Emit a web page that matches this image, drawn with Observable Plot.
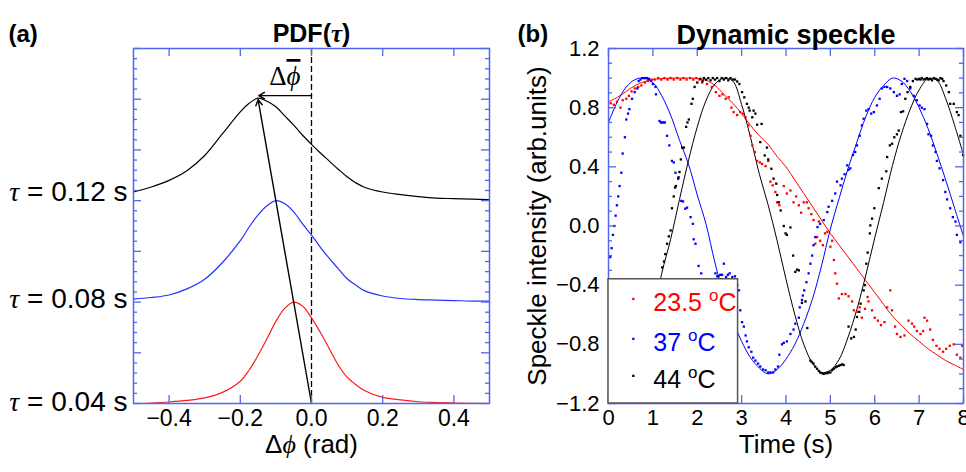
<!DOCTYPE html>
<html><head><meta charset="utf-8">
<script src="https://cdn.jsdelivr.net/npm/d3@7"></script>
<script src="https://cdn.jsdelivr.net/npm/@observablehq/plot@0.6"></script>
<style>
body{margin:0;background:#fff;}
#wrap{position:relative;width:966px;height:472px;display:flex;}
svg{display:block;}
</style></head><body><div id="wrap"></div>
<script>
// ---------- Panel (a): PDF(tau) ----------
const phiGrid = [-0.5,-0.45,-0.4,-0.35,-0.3,-0.25,-0.2,-0.175,-0.15,-0.125,-0.1,-0.075,-0.05,-0.025,0,0.025,0.05,0.075,0.1,0.125,0.15,0.2,0.25,0.3,0.35,0.4,0.45,0.5];
const pdfTau004 = [0.00,0.01,0.03,0.06,0.11,0.22,0.44,0.66,0.95,1.28,1.62,1.88,2.00,1.92,1.69,1.40,1.08,0.76,0.52,0.37,0.25,0.12,0.07,0.035,0.02,0.01,0.005,0.0];
const pdfTau008 = [2.06,2.09,2.14,2.26,2.45,2.78,3.21,3.48,3.72,3.90,4.00,3.94,3.78,3.54,3.32,3.08,2.86,2.66,2.46,2.33,2.22,2.12,2.07,2.05,2.04,2.03,2.02,2.02];
const pdfTau012 = [4.17,4.27,4.40,4.59,4.89,5.32,5.75,5.92,6.02,5.96,5.85,5.67,5.49,5.29,5.11,4.94,4.78,4.62,4.47,4.35,4.26,4.17,4.12,4.08,4.05,4.04,4.03,4.02];
const tauNames = ["τ = 0.04 s", "τ = 0.08 s", "τ = 0.12 s"];
const tauLabelY = [0.03, 2.06, 4.17];
const tauColors = ["#ff1a1a", "#2233ff", "#000000"];
const phiTicks = [-0.4, -0.2, 0, 0.2, 0.4];
const arrowX1 = [0.0, 0.0], arrowY1 = [0.0, 6.07], arrowX2 = [-0.150, -0.148], arrowY2 = [5.99, 6.07];
const meanShiftLabel = ["Δϕ"], meanShiftX = [-0.075], meanShiftY = [6.45];

// ---------- Panel (b): Dynamic speckle ----------
const seriesNames = ["23.5 °C", "37 °C", "44 °C"];
const seriesColors = ["#ff0000", "#0000ff", "#000000"];
const timeTicks = [0,1,2,3,4,5,6,7,8];
const intensityTicks = [-1.2,-0.8,-0.4,0,0.4,0.8,1.2];

const tRedDots = [0.05,0.12,0.19,0.27,0.32,0.40,0.46,0.52,0.59,0.67,0.74,0.82,0.89,0.97,1.04,1.12,1.19,1.26,1.33,1.40,1.47,1.55,1.62,1.69,1.76,1.84,1.91,1.98,2.05,2.11,2.22,2.33,2.42,2.50,2.57,2.64,2.71,2.77,2.82,2.90,2.97,3.03,3.09,3.15,3.20,3.24,3.30,3.35,3.41,3.46,3.54,3.60,3.65,3.70,3.76,3.80,3.85,3.95,4.02,4.10,4.17,4.23,4.29,4.34,4.40,4.47,4.51,4.57,4.62,4.66,4.70,4.74,4.77,4.83,4.88,4.93,5.00,5.04,5.08,5.11,5.15,5.19,5.26,5.34,5.41,5.49,5.53,5.60,5.66,5.71,5.78,5.84,5.86,5.94,6.00,6.07,6.14,6.22,6.28,6.35,6.39,6.46,6.50,6.58,6.67,6.76,6.84,6.89,6.95,7.03,7.09,7.12,7.18,7.25,7.31,7.39,7.46,7.54,7.61,7.69,7.78,7.85,7.93,7.97];
const vRedDots = [0.83,0.82,0.84,0.80,0.85,0.86,0.88,0.91,0.93,0.94,0.95,0.97,0.98,0.99,0.99,1.00,0.99,1.00,0.99,1.00,0.99,1.00,0.99,1.00,0.99,1.00,0.99,1.00,0.99,0.97,0.96,0.94,0.905,0.88,0.89,0.86,0.87,0.80,0.77,0.75,0.77,0.76,0.735,0.68,0.61,0.545,0.50,0.44,0.43,0.42,0.405,0.44,0.30,0.275,0.23,0.16,0.14,0.27,0.22,0.24,0.16,0.20,0.14,0.09,0.16,0.16,0.12,0.08,0.04,-0.12,-0.075,0.03,-0.10,-0.13,-0.05,-0.04,-0.14,-0.10,-0.23,-0.32,-0.39,-0.49,-0.46,-0.46,-0.475,-0.51,-0.57,-0.58,-0.55,-0.62,-0.56,-0.48,-0.51,-0.57,-0.62,-0.64,-0.67,-0.65,-0.55,-0.435,-0.57,-0.68,-0.73,-0.75,-0.74,-0.64,-0.66,-0.68,-0.71,-0.73,-0.71,-0.62,-0.64,-0.70,-0.77,-0.81,-0.83,-0.85,-0.83,-0.81,-0.80,-0.87,-0.89,-0.81];

const tBlueDots = [0.04,0.07,0.10,0.13,0.16,0.19,0.22,0.25,0.29,0.32,0.37,0.40,0.44,0.47,0.53,0.59,0.65,0.68,0.72,0.76,0.80,0.83,0.87,0.91,0.96,1.00,1.06,1.07,1.15,1.18,1.21,1.24,1.27,1.32,1.37,1.43,1.47,1.51,1.58,1.64,1.68,1.73,1.77,1.85,1.90,1.92,1.96,2.03,2.09,2.41,2.45,2.48,2.52,2.56,2.60,2.65,2.69,2.73,2.79,2.85,2.90,2.94,2.97,3.01,3.05,3.09,3.12,3.16,3.22,3.26,3.31,3.37,3.42,3.48,3.54,3.60,3.65,3.71,3.76,3.82,3.85,3.91,3.95,4.02,4.10,4.17,4.21,4.29,4.31,4.36,4.38,4.41,4.46,4.51,4.55,4.59,4.62,4.66,4.71,4.77,4.85,4.93,4.96,5.04,5.11,5.15,5.23,5.26,5.32,5.38,5.41,5.45,5.51,5.56,5.60,5.66,5.71,5.75,5.81,5.86,5.92,5.98,6.05,6.11,6.16,6.22,6.28,6.35,6.43,6.50,6.56,6.61,6.67,6.73,6.80,6.88,6.95,7.01,7.06,7.12,7.18,7.21,7.27,7.31,7.37,7.40,7.46,7.54,7.59,7.63,7.70,7.76,7.82,7.85,7.93];
const vBlueDots = [-0.21,-0.15,-0.06,0.00,0.07,0.14,0.20,0.27,0.36,0.49,0.60,0.72,0.76,0.79,0.86,0.905,0.93,0.98,0.99,1.00,1.00,1.00,1.00,0.995,0.98,0.96,0.94,0.89,0.71,0.70,0.70,0.70,0.70,0.61,0.545,0.44,0.43,0.36,0.33,0.17,0.166,0.117,0.124,0.06,0.015,-0.09,-0.12,-0.27,-0.32,-0.32,-0.34,-0.34,-0.33,-0.33,-0.255,-0.345,-0.33,-0.32,-0.345,-0.34,-0.40,-0.435,-0.57,-0.65,-0.68,-0.74,-0.78,-0.82,-0.85,-0.89,-0.91,-0.93,-0.95,-0.97,-0.975,-0.99,-0.99,-0.99,-0.97,-0.95,-0.87,-0.80,-0.79,-0.78,-0.73,-0.70,-0.66,-0.62,-0.55,-0.50,-0.47,-0.435,-0.38,-0.32,-0.255,-0.20,-0.13,-0.075,-0.007,0.015,0.04,0.094,0.13,0.17,0.22,0.30,0.275,0.32,0.35,0.41,0.38,0.39,0.48,0.50,0.545,0.61,0.68,0.725,0.78,0.79,0.76,0.77,0.815,0.86,0.93,0.94,0.94,0.93,0.905,0.88,0.89,0.96,0.995,0.98,0.93,0.88,0.85,0.815,0.80,0.79,0.69,0.62,0.61,0.545,0.50,0.44,0.39,0.31,0.23,0.18,0.12,0.06,0.03,-0.06,-0.11];

const tBlackDots = [1.21,1.25,1.28,1.32,1.36,1.40,1.43,1.47,1.50,1.52,1.57,1.60,1.63,1.66,1.70,1.75,1.78,1.81,1.87,1.90,1.94,2.00,2.07,2.12,2.15,2.20,2.25,2.30,2.35,2.40,2.45,2.50,2.55,2.60,2.65,2.70,2.75,2.80,2.85,2.90,2.95,3.01,3.06,3.12,3.16,3.18,3.24,3.27,3.31,3.35,3.42,3.45,3.52,3.57,3.60,3.67,3.72,3.78,3.80,3.84,3.88,3.95,3.99,4.02,4.10,4.16,4.21,4.25,4.29,4.36,4.44,4.48,4.55,4.58,4.62,4.66,4.70,4.74,4.77,4.81,4.85,4.89,4.93,4.96,5.00,5.04,5.08,5.12,5.15,5.19,5.23,5.27,5.30,5.41,5.47,5.53,5.57,5.60,5.65,5.68,5.75,5.78,5.81,5.84,5.89,5.90,5.94,5.99,6.09,6.16,6.26,6.28,6.34,6.39,6.44,6.50,6.54,6.59,6.64,6.69,6.74,6.80,6.86,6.92,6.96,7.00,7.03,7.06,7.10,7.14,7.18,7.21,7.25,7.29,7.33,7.37,7.41,7.44,7.48,7.52,7.55,7.61,7.67,7.70,7.78,7.85,7.89,7.93,7.99];
const vBlackDots = [-0.28,-0.24,-0.19,-0.12,-0.07,-0.03,0.12,0.20,0.26,0.27,0.32,0.365,0.45,0.53,0.53,0.67,0.70,0.72,0.826,0.86,0.94,0.97,0.995,0.98,1.0,0.99,1.0,0.985,1.0,0.99,1.0,0.98,1.0,0.99,1.0,0.985,1.0,0.99,0.99,0.977,0.96,0.905,0.87,0.826,0.80,0.78,0.735,0.78,0.76,0.685,0.567,0.69,0.477,0.53,0.45,0.387,0.32,0.286,0.21,0.16,0.105,0.00,-0.05,-0.06,-0.01,-0.20,-0.31,-0.295,-0.30,-0.52,-0.51,-0.69,-0.91,-0.92,-0.93,-0.95,-0.965,-0.98,-0.99,-0.995,-1.0,-0.995,-0.995,-0.99,-0.99,-0.975,-0.965,-0.955,-0.95,-0.945,-0.94,-0.935,-0.94,-0.68,-0.76,-0.75,-0.70,-0.615,-0.58,-0.525,-0.435,-0.40,-0.255,-0.18,-0.05,0.004,0.05,0.12,0.256,0.32,0.37,0.466,0.545,0.556,0.60,0.62,0.645,0.77,0.775,0.86,0.905,0.94,0.98,0.995,0.99,0.995,0.99,1.0,0.99,0.995,1.0,0.99,0.995,0.985,1.0,0.995,0.99,0.985,1.0,0.995,0.98,0.95,0.905,0.826,0.826,0.77,0.75,0.61,0.48];

const tFit = [0,0.2,0.4,0.6,0.8,1.0,1.2,1.4,1.6,1.8,2.0,2.2,2.4,2.6,2.8,3.0,3.2,3.4,3.6,3.8,4.0,4.2,4.4,4.6,4.8,5.0,5.2,5.4,5.6,5.8,6.0,6.2,6.4,6.6,6.8,7.0,7.2,7.4,7.6,7.8,8.0];
const vRedFit = [0.84,0.87,0.91,0.95,0.975,0.99,0.997,1.0,1.0,1.0,0.998,0.985,0.95,0.89,0.83,0.76,0.68,0.61,0.55,0.47,0.40,0.31,0.22,0.13,0.04,-0.05,-0.13,-0.21,-0.29,-0.37,-0.45,-0.53,-0.61,-0.67,-0.73,-0.78,-0.83,-0.87,-0.91,-0.94,-0.97];
const vBlueFit = [0.70,0.84,0.94,0.99,1.0,0.97,0.88,0.75,0.58,0.42,0.21,0.01,-0.25,-0.47,-0.64,-0.78,-0.89,-0.96,-1.0,-0.97,-0.90,-0.80,-0.66,-0.49,-0.27,-0.02,0.19,0.39,0.57,0.74,0.87,0.95,1.0,0.98,0.91,0.80,0.66,0.49,0.31,0.12,-0.07];
const vBlackFit = [null,null,null,null,null,-0.62,-0.32,-0.09,0.18,0.44,0.67,0.85,0.96,1.0,0.98,0.82,0.60,0.35,0.14,-0.10,-0.36,-0.60,-0.80,-0.93,-0.99,-0.975,-0.90,-0.75,-0.56,-0.33,-0.08,0.16,0.41,0.62,0.79,0.92,0.995,0.985,0.86,0.68,0.48];

// legend placement (data units of panel b)
const legendBox = [{t1: 0, t2: 2.92, v1: -1.2, v2: -0.36}];
const legendDotT = 0.56, legendTextT = 1.01;
const legendV = [-0.52, -0.79, -1.04];

// ---------- styles ----------
const AX = "#5366ee";
const SANS = "'Liberation Sans', Arial, sans-serif";
const SERIF = "'Liberation Serif', 'DejaVu Serif', serif";
const H = 472, MT = 48, MB = 69;
const plotH = H - MT - MB;

function frameTicks(plotW, yMinor, yMajorTest, xTicks) {
  const lenOf = d => yMajorTest(d) ? 8 : 4;
  return [
    ...yMinor.map(d => Plot.tickY([d], {y: x => x, stroke: AX, strokeWidth: 1.3, insetRight: plotW - lenOf(d)})),
    ...yMinor.map(d => Plot.tickY([d], {y: x => x, stroke: AX, strokeWidth: 1.3, insetLeft: plotW - lenOf(d)})),
    Plot.tickX(xTicks, {x: d => d, stroke: AX, strokeWidth: 1.3, insetTop: plotH - 8}),
    Plot.tickX(xTicks, {x: d => d, stroke: AX, strokeWidth: 1.3, insetBottom: plotH - 8})
  ];
}

function styleText(svg, overbarTexts) {
  d3.select(svg).selectAll("text").each(function () {
    const el = this;
    if (el.querySelector("tspan")) return;
    const s = el.textContent;
    const sel = d3.select(el);
    const bar = overbarTexts.includes(s);
    if (s.endsWith("°C")) {
      const num = s.slice(0, -2);
      el.textContent = "";
      sel.append("tspan").text(num);
      sel.append("tspan").attr("dy", -10).attr("font-size", "17px").text("o");
      sel.append("tspan").attr("dy", 10).text("C");
    } else if (/[τϕ]/.test(s)) {
      el.textContent = "";
      for (const part of s.split(/([τϕ])/)) {
        if (!part) continue;
        const t = sel.append("tspan").text(part);
        if (/[τϕ]/.test(part)) {
          t.attr("font-family", SERIF).attr("font-style", "italic");
          if (bar) t.attr("text-decoration", "overline");
        }
      }
    }
  });
}

// ---------- build panel (a) ----------
const WA = 500, MLA = 133, MRA = 11, plotWA = WA - MLA - MRA;
const pdfRows = [];
[pdfTau004, pdfTau008, pdfTau012].forEach((arr, k) => arr.forEach((v, i) => pdfRows.push({phi: phiGrid[i], pdf: v, tau: tauNames[k]})));
const arrows = arrowX1.map((d, i) => ({x1: arrowX1[i], y1: arrowY1[i], x2: arrowX2[i], y2: arrowY2[i]}));
const yMinorA = d3.range(0, 36).map(i => i * 0.2);

const plotA = Plot.plot({
  width: WA, height: H, marginLeft: MLA, marginRight: MRA, marginTop: MT, marginBottom: MB,
  style: {fontFamily: SANS, fontSize: "22px", background: "transparent", overflow: "visible", color: "#000"},
  x: {domain: [-0.5, 0.5], axis: null},
  y: {domain: [0, 7], axis: null},
  color: {domain: tauNames, range: tauColors},
  marks: [
    Plot.ruleX([0], {stroke: "#000", strokeWidth: 1.3, strokeDasharray: "6,3"}),
    Plot.line(pdfRows, {x: "phi", y: "pdf", z: "tau", stroke: "tau", strokeWidth: 1.2, curve: "catmull-rom"}),
    Plot.arrow(arrows, {x1: "x1", y1: "y1", x2: "x2", y2: "y2", stroke: "#000", strokeWidth: 1.4, headLength: 7}),
    Plot.text(meanShiftLabel, {x: meanShiftX, y: meanShiftY, text: d => d, fontFamily: SERIF, fontSize: 27}),
    Plot.frame({stroke: AX, strokeWidth: 1.5}),
    ...frameTicks(plotWA, yMinorA, d => Math.abs(d - Math.round(d)) < 1e-6, phiTicks),
    Plot.axisX({ticks: phiTicks, tickSize: 0, tickPadding: 6, tickFormat: d3.format(".1f"), fontSize: 23, label: null}),
    Plot.text(tauNames, {x: -0.5, y: tauLabelY, text: d => d, textAnchor: "end", dx: -6, fontSize: 28}),
    Plot.text(["Δϕ (rad)"], {frameAnchor: "bottom", dy: 49, fontSize: 26, textAnchor: "middle", text: d => d}),
    Plot.text(["PDF(τ)"], {frameAnchor: "top", dy: -24, fontSize: 25, fontWeight: "bold", textAnchor: "middle", text: d => d}),
    Plot.text(["(a)"], {frameAnchor: "top-left", dx: -125, dy: -24, textAnchor: "start", fontSize: 24, fontWeight: "bold", text: d => d})
  ]
});

// ---------- build panel (b) ----------
const WB = 466, MLB = 108, MRB = 3, plotWB = WB - MLB - MRB;
const dotRows = [];
[[tRedDots, vRedDots], [tBlueDots, vBlueDots], [tBlackDots, vBlackDots]].forEach(([ts, vs], k) =>
  ts.forEach((t, i) => dotRows.push({t, v: vs[i], series: seriesNames[k]})));
const fitRows = [];
[vRedFit, vBlueFit, vBlackFit].forEach((vs, k) => vs.forEach((v, i) => { if (v !== null) fitRows.push({t: tFit[i], v, series: seriesNames[k]}); }));
const legendRows = seriesNames.map((s, i) => ({series: s, v: legendV[i]}));
const yMinorB = d3.range(0, 25).map(i => Math.round((-1.2 + i * 0.1) * 10) / 10);

const plotB = Plot.plot({
  width: WB, height: H, marginLeft: MLB, marginRight: MRB, marginTop: MT, marginBottom: MB,
  style: {fontFamily: SANS, fontSize: "22px", background: "transparent", overflow: "visible", color: "#000"},
  x: {domain: [0, 8], axis: null},
  y: {domain: [-1.2, 1.2], axis: null},
  color: {domain: seriesNames, range: seriesColors},
  marks: [
    Plot.line(fitRows, {x: "t", y: "v", z: "series", stroke: "series", strokeWidth: 1, curve: "catmull-rom"}),
    Plot.dot(dotRows, {x: "t", y: "v", fill: "series", symbol: "square", r: 1.3}),
    Plot.frame({stroke: AX, strokeWidth: 1.5}),
    ...frameTicks(plotWB, yMinorB, d => Math.abs(d / 0.4 - Math.round(d / 0.4)) < 1e-6, timeTicks),
    Plot.rect(legendBox, {x1: "t1", x2: "t2", y1: "v1", y2: "v2", fill: "#fff", stroke: "#555", strokeWidth: 1.5}),
    Plot.dot(legendRows, {x: legendDotT, y: "v", fill: "series", symbol: "square", r: 1.3, dy: -4}),
    Plot.text(legendRows, {x: legendTextT, y: "v", text: "series", fill: "series", textAnchor: "start", fontSize: 25}),
    Plot.axisX({ticks: timeTicks, tickSize: 0, tickPadding: 6, tickFormat: d3.format("d"), fontSize: 22, label: null}),
    Plot.axisY({ticks: intensityTicks, tickSize: 0, tickPadding: 9, tickFormat: d3.format(".1f"), fontSize: 22, label: null}),
    Plot.text(["Time (s)"], {frameAnchor: "bottom", dy: 49, fontSize: 26, textAnchor: "middle", text: d => d}),
    Plot.text(["Speckle intensity (arb.units)"], {frameAnchor: "left", dx: -71, rotate: -90, fontSize: 26, textAnchor: "middle", text: d => d}),
    Plot.text(["Dynamic speckle"], {frameAnchor: "top", dy: -24, fontSize: 27, fontWeight: "bold", textAnchor: "middle", text: d => d}),
    Plot.text(["(b)"], {frameAnchor: "top-left", dx: -91, dy: -24, textAnchor: "start", fontSize: 24, fontWeight: "bold", text: d => d})
  ]
});

const wrap = document.getElementById("wrap");
wrap.appendChild(plotA);
wrap.appendChild(plotB);
styleText(plotA, meanShiftLabel);
styleText(plotB, []);
</script></body></html>
